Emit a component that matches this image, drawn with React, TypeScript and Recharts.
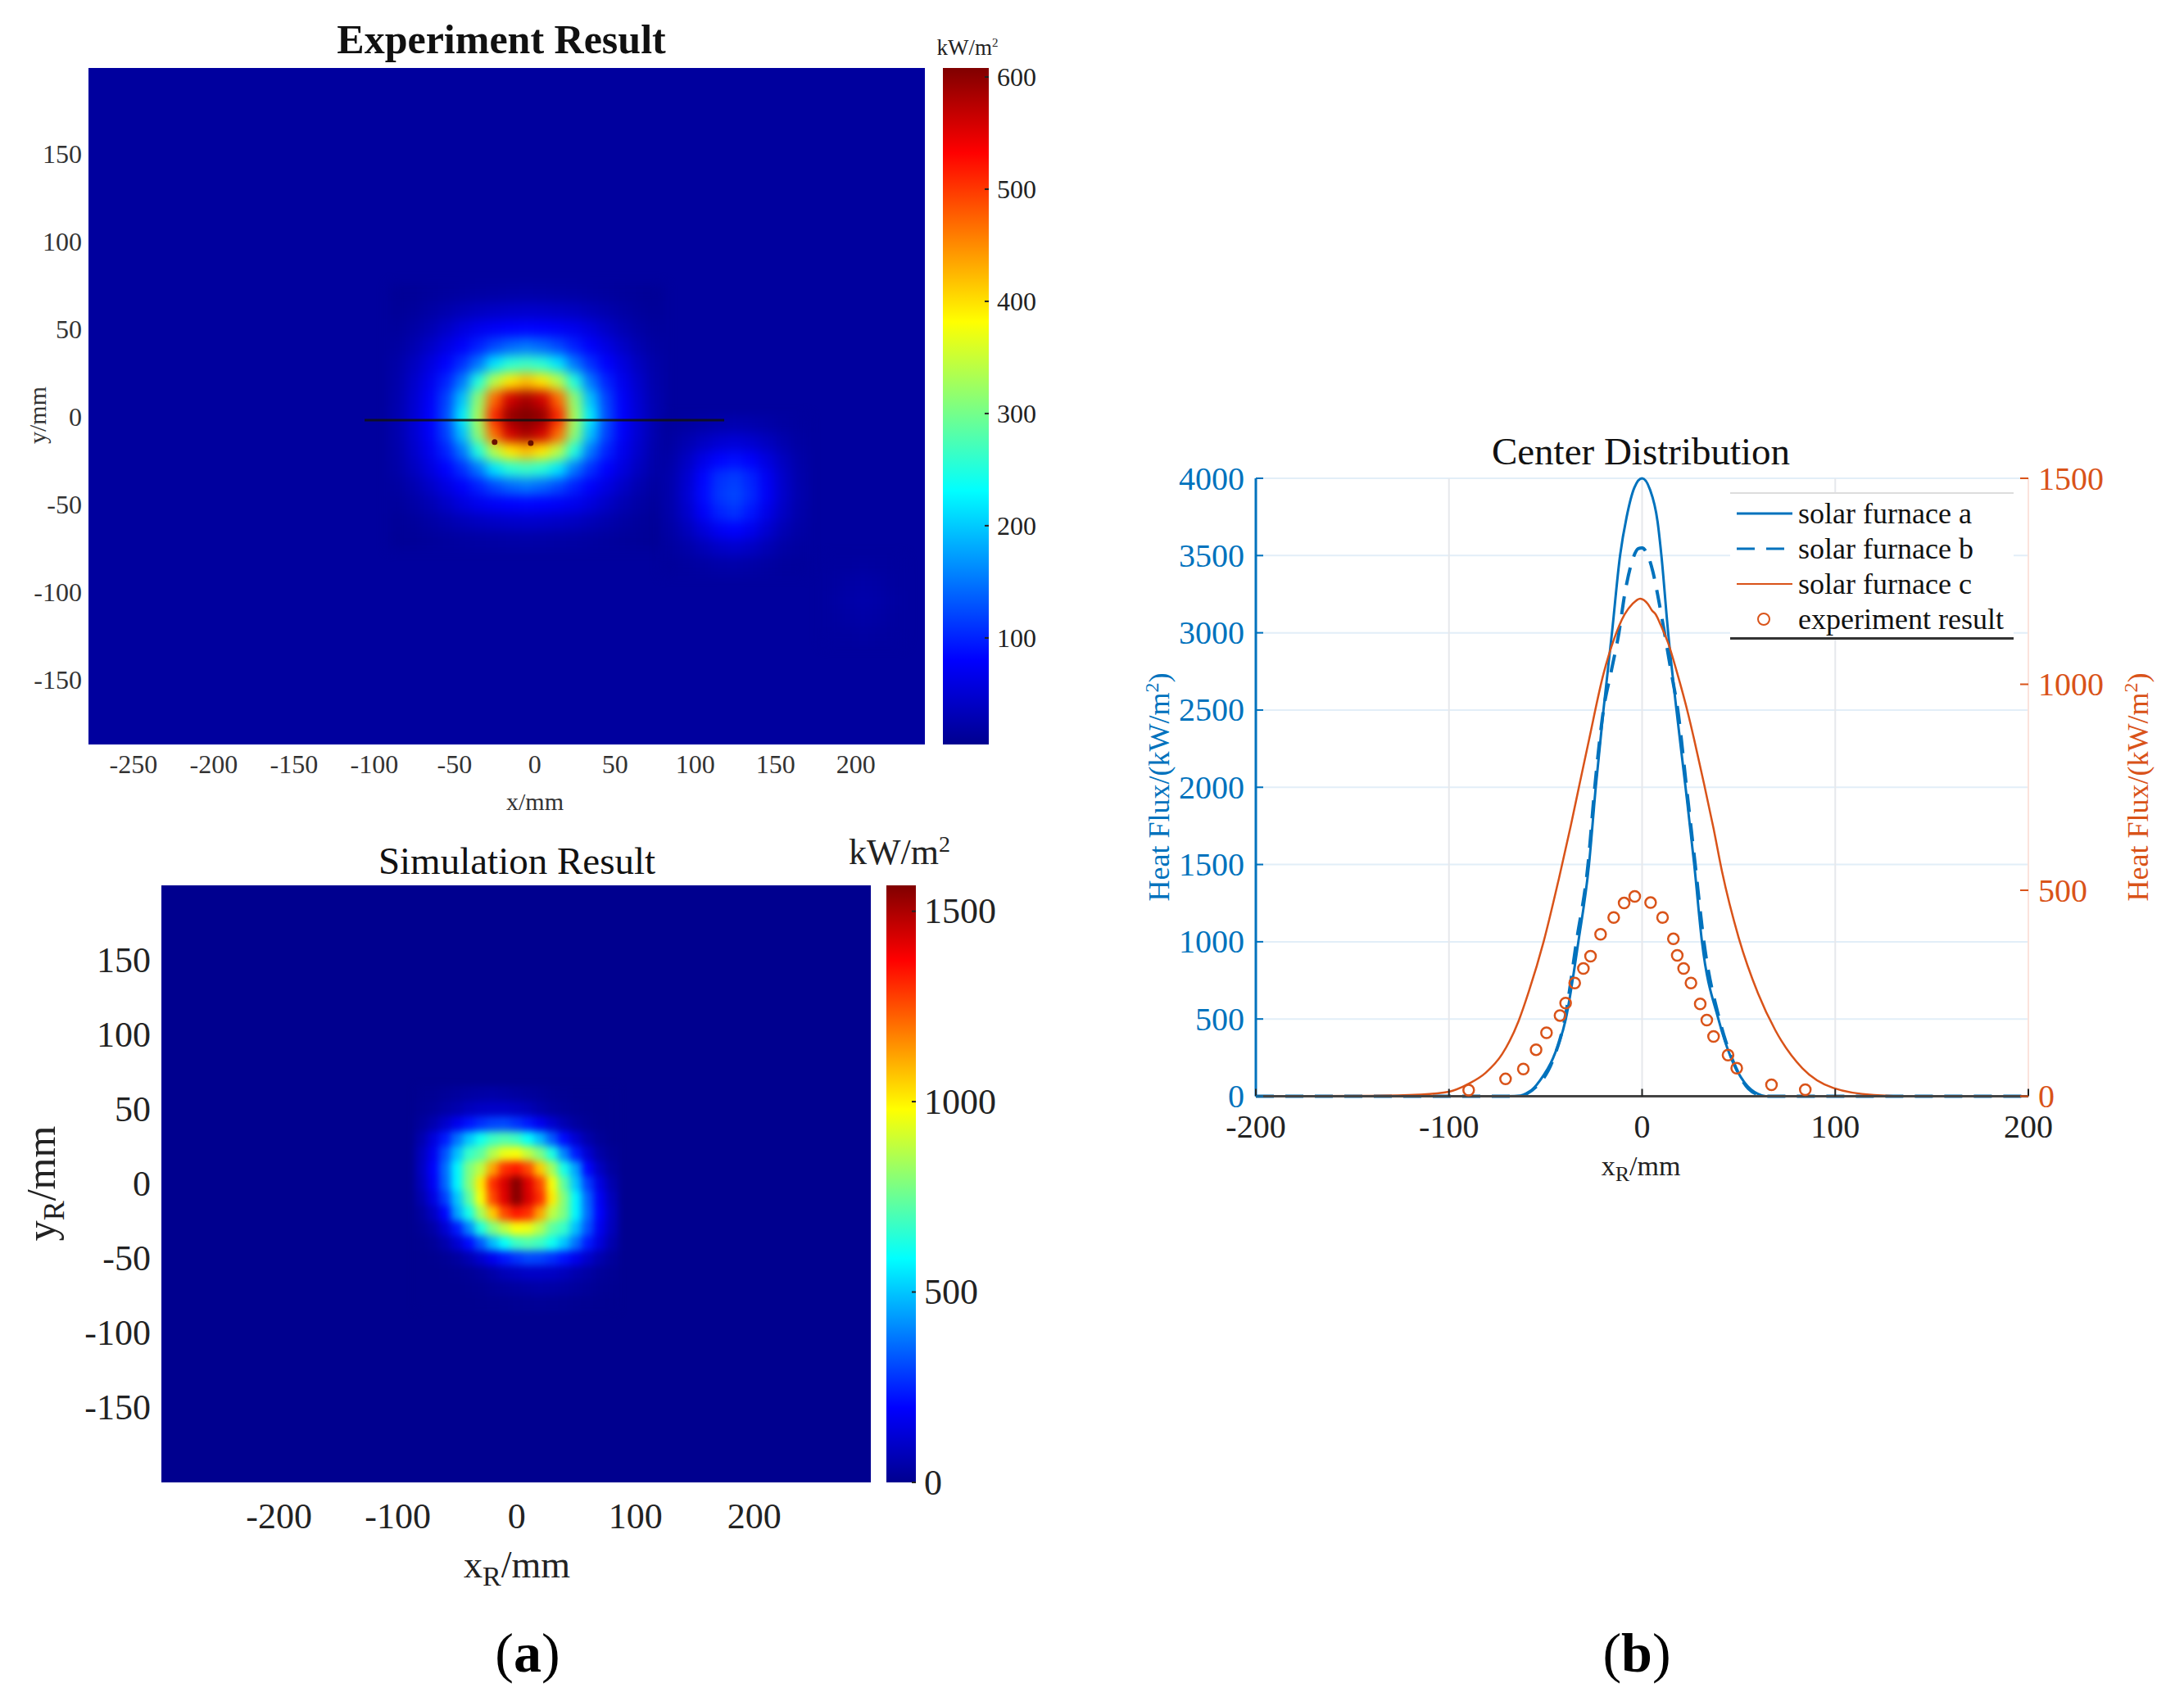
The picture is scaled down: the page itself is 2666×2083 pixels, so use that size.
import React from 'react';
import {
  ComposedChart, ScatterChart, Scatter, Line, XAxis, YAxis, CartesianGrid,
  ReferenceArea, Legend,
} from 'recharts';

const SERIF = '"Liberation Serif", serif';
const BLUE = '#0072bd';
const ORANGE = '#d95319';

// experiment heat map, kW/m2, 10 mm cells
const expColsX = [-85, -75, -65, -55, -45, -35, -25, -15, -5, 5, 15, 25, 35, 45, 55, 65, 75];
const expRowsY = [70, 60, 50, 40, 30, 20, 10, 0, -10, -20, -30, -40, -50, -60, -70];
const expRows = [
  [10, 11, 13, 15, 17, 19, 20, 21, 22, 21, 20, 19, 17, 15, 13, 11, 10],
  [11, 14, 19, 25, 32, 38, 42, 45, 46, 45, 42, 38, 32, 25, 19, 14, 11],
  [14, 20, 29, 42, 57, 68, 75, 80, 82, 80, 75, 68, 57, 42, 29, 20, 14],
  [17, 27, 43, 60, 78, 98, 122, 140, 150, 140, 122, 98, 78, 60, 43, 27, 17],
  [22, 37, 58, 80, 108, 150, 215, 255, 265, 255, 215, 150, 108, 80, 58, 37, 22],
  [24, 45, 68, 100, 150, 250, 340, 395, 420, 395, 340, 250, 150, 100, 68, 45, 24],
  [26, 49, 76, 118, 195, 315, 470, 560, 585, 560, 470, 315, 195, 118, 76, 49, 26],
  [27, 50, 79, 125, 220, 330, 510, 595, 610, 595, 510, 330, 220, 125, 79, 50, 27],
  [26, 49, 76, 118, 195, 315, 470, 560, 585, 560, 470, 315, 195, 118, 76, 49, 26],
  [24, 45, 68, 100, 150, 250, 340, 395, 420, 395, 340, 250, 150, 100, 68, 45, 24],
  [22, 37, 58, 80, 108, 150, 215, 255, 265, 255, 215, 150, 108, 80, 58, 37, 22],
  [17, 27, 43, 60, 78, 98, 122, 140, 150, 140, 122, 98, 78, 60, 43, 27, 17],
  [14, 20, 29, 42, 57, 68, 75, 80, 82, 80, 75, 68, 57, 42, 29, 20, 14],
  [11, 14, 19, 25, 32, 38, 42, 45, 46, 45, 42, 38, 32, 25, 19, 14, 11],
  [10, 11, 13, 15, 17, 19, 20, 21, 22, 21, 20, 19, 17, 15, 13, 11, 10],
];

// the weak second spot, lower right of the experiment map
const spotColsX = [85, 95, 105, 115, 125, 135, 145, 155, 165];
const spotRowsY = [-5, -15, -25, -35, -45, -55, -65, -75, -85];
const spotRows = [
  [15, 18, 22, 26, 28, 26, 22, 18, 15],
  [18, 28, 40, 50, 54, 48, 38, 26, 18],
  [22, 40, 64, 82, 88, 78, 58, 38, 22],
  [25, 48, 82, 108, 116, 100, 72, 44, 24],
  [25, 50, 85, 112, 122, 104, 75, 45, 25],
  [24, 45, 76, 100, 110, 92, 64, 40, 23],
  [20, 34, 54, 72, 80, 68, 48, 30, 20],
  [16, 22, 32, 42, 46, 40, 30, 20, 16],
  [13, 15, 18, 21, 22, 20, 17, 14, 13],
];

// very faint patch further down on the right
const faintColsX = [185, 195, 205, 215, 225];
const faintRowsY = [-85, -95, -105, -115, -125];
const faintRows = [
  [15, 16, 17, 16, 15],
  [16, 19, 21, 19, 16],
  [17, 21, 24, 21, 17],
  [16, 19, 21, 19, 16],
  [15, 16, 17, 16, 15],
];

const darkSpots = [{ x: -25, y: -14.5 }, { x: -2.5, y: -15 }];
const scanLine = [{ x: -106, y: -2 }, { x: 118, y: -2 }];

// simulation heat map, kW/m2, 10 mm cells
const simColsX = [-80, -70, -60, -50, -40, -30, -20, -10, 0, 10, 20, 30, 40, 50, 60, 70, 80];
const simRowsY = [60, 50, 40, 30, 20, 10, 0, -10, -20, -30, -40, -50, -60, -70, -80];
const simRows = [
  [3, 7, 15, 24, 33, 39, 42, 37, 30, 23, 15, 7, 3, 0, 0, 0, 0],
  [8, 18, 36, 55, 78, 92, 98, 98, 86, 70, 43, 25, 12, 5, 1, 0, 0],
  [22, 56, 105, 165, 224, 266, 298, 305, 273, 231, 168, 112, 63, 28, 10, 2, 0],
  [55, 135, 235, 370, 500, 610, 680, 710, 680, 595, 480, 335, 210, 115, 50, 15, 2],
  [78, 170, 320, 490, 670, 730, 860, 950, 970, 880, 780, 630, 400, 235, 115, 42, 12],
  [85, 195, 360, 575, 780, 880, 1120, 1300, 1340, 1260, 1060, 840, 620, 445, 200, 90, 28],
  [75, 180, 350, 575, 790, 1010, 1300, 1430, 1560, 1420, 1260, 970, 730, 500, 290, 145, 55],
  [55, 145, 290, 500, 730, 970, 1260, 1420, 1560, 1430, 1300, 1010, 790, 575, 350, 180, 75],
  [28, 90, 200, 445, 620, 840, 1060, 1260, 1340, 1300, 1120, 880, 780, 575, 360, 195, 85],
  [12, 42, 115, 235, 400, 630, 780, 880, 970, 950, 860, 730, 670, 490, 320, 170, 78],
  [2, 15, 50, 115, 210, 335, 480, 595, 680, 710, 680, 610, 500, 370, 235, 135, 55],
  [0, 2, 10, 28, 63, 112, 168, 231, 273, 305, 298, 266, 224, 165, 105, 56, 22],
  [0, 0, 1, 5, 12, 25, 43, 70, 86, 98, 98, 92, 78, 55, 36, 18, 8],
  [0, 0, 0, 0, 3, 7, 15, 23, 30, 37, 42, 39, 33, 24, 15, 7, 3],
  [0, 0, 0, 0, 0, 2, 4, 6, 8, 10, 12, 10, 8, 6, 3, 1, 0],
];

// center distribution curves
const furnaceA = [
  { x: -200, y: 0 }, { x: -100, y: 0 }, { x: -70, y: 0 }, { x: -62, y: 5 }, { x: -58, y: 30 },
  { x: -53, y: 100 }, { x: -46, y: 250 }, { x: -39.5, y: 500 }, { x: -33, y: 1000 }, { x: -27.5, y: 1500 },
  { x: -24, y: 2000 }, { x: -20, y: 2500 }, { x: -15.6, y: 3000 }, { x: -11.4, y: 3500 }, { x: -8, y: 3750 },
  { x: -4, y: 3940 }, { x: 0, y: 4000 }, { x: 4, y: 3930 }, { x: 8, y: 3720 }, { x: 10, y: 3500 },
  { x: 13.5, y: 3000 }, { x: 17.8, y: 2500 }, { x: 22.5, y: 2000 }, { x: 27, y: 1500 }, { x: 31, y: 1000 },
  { x: 39.5, y: 500 }, { x: 46, y: 250 }, { x: 53, y: 90 }, { x: 60, y: 15 }, { x: 64, y: 0 },
  { x: 100, y: 0 }, { x: 200, y: 0 },
];
const furnaceB = [
  { x: -200, y: 0 }, { x: -64, y: 0 }, { x: -60, y: 15 }, { x: -55, y: 60 }, { x: -46, y: 240 },
  { x: -40, y: 500 }, { x: -34, y: 1000 }, { x: -28, y: 1500 }, { x: -24.5, y: 2000 }, { x: -20, y: 2500 },
  { x: -16, y: 2750 }, { x: -12, y: 3000 }, { x: -9, y: 3250 }, { x: -5, y: 3470 }, { x: -2, y: 3545 },
  { x: 0, y: 3550 }, { x: 3, y: 3500 }, { x: 5.5, y: 3400 }, { x: 8, y: 3250 }, { x: 11.6, y: 3000 },
  { x: 15, y: 2750 }, { x: 18.5, y: 2500 }, { x: 23, y: 2000 }, { x: 27.5, y: 1500 }, { x: 32, y: 1000 },
  { x: 40, y: 500 }, { x: 47, y: 230 }, { x: 55, y: 50 }, { x: 62, y: 5 }, { x: 66, y: 0 }, { x: 200, y: 0 },
];
const furnaceC = [
  { x: -200, y: 0 }, { x: -140, y: 1 }, { x: -115, y: 4 }, { x: -100, y: 11 }, { x: -89.5, y: 31 },
  { x: -81, y: 57 }, { x: -72.5, y: 102 }, { x: -64, y: 182 }, { x: -58.6, y: 255 }, { x: -51, y: 375 },
  { x: -43, y: 530 }, { x: -37, y: 655 }, { x: -32.5, y: 755 }, { x: -27.5, y: 865 }, { x: -20, y: 1025 },
  { x: -14.5, y: 1110 }, { x: -9, y: 1170 }, { x: -5, y: 1195 }, { x: -1, y: 1208 }, { x: 3, y: 1195 },
  { x: 5, y: 1180 }, { x: 7, y: 1170 }, { x: 10, y: 1140 }, { x: 13.5, y: 1100 }, { x: 18, y: 1030 },
  { x: 24, y: 925 }, { x: 27, y: 865 }, { x: 32, y: 760 }, { x: 37, y: 650 }, { x: 41.4, y: 545 },
  { x: 50, y: 385 }, { x: 60, y: 250 }, { x: 69, y: 160 }, { x: 83, y: 68 }, { x: 99, y: 20 },
  { x: 120, y: 3 }, { x: 140, y: 0 }, { x: 200, y: 0 },
];
const experimentPoints = [
  { x: -89.8, y: 15 }, { x: -70.7, y: 42 }, { x: -61.5, y: 66 }, { x: -54.9, y: 113 }, { x: -49.5, y: 154 },
  { x: -42.5, y: 196 }, { x: -39.6, y: 226 }, { x: -34.9, y: 275 }, { x: -30.4, y: 310 }, { x: -26.7, y: 340 },
  { x: -21.5, y: 393 }, { x: -14.7, y: 434 }, { x: -9.3, y: 469 }, { x: -3.8, y: 485 }, { x: 4.4, y: 470 },
  { x: 10.6, y: 434 }, { x: 16.2, y: 382 }, { x: 18.2, y: 342 }, { x: 21.5, y: 310 }, { x: 25.3, y: 275 },
  { x: 30.1, y: 224 }, { x: 33.5, y: 185 }, { x: 37, y: 145 }, { x: 44.5, y: 100 }, { x: 49, y: 68 },
  { x: 67, y: 28 }, { x: 84.5, y: 16 },
];

const expXTicks = [-250, -200, -150, -100, -50, 0, 50, 100, 150, 200];
const expYTicks = [-150, -100, -50, 0, 50, 100, 150];
const expBarTicks = [100, 200, 300, 400, 500, 600];
const simXTicks = [-200, -100, 0, 100, 200];
const simYTicks = [-150, -100, -50, 0, 50, 100, 150];
const simBarTicks = [0, 500, 1000, 1500];
const centerXTicks = [-200, -100, 0, 100, 200];
const leftTicks = [0, 500, 1000, 1500, 2000, 2500, 3000, 3500, 4000];
const rightTicks = [0, 500, 1000, 1500];

const JET_STOPS: [number, string][] = [
  [0, '#00008f'], [0.125, '#0000ff'], [0.375, '#00ffff'], [0.625, '#ffff00'], [0.875, '#ff0000'], [1, '#800000'],
];

function jet(t: number) {
  const clamped = Math.max(0, Math.min(1, t));
  for (let i = 1; i < JET_STOPS.length; i++) {
    const [t1, c1] = JET_STOPS[i - 1];
    const [t2, c2] = JET_STOPS[i];
    if (clamped <= t2) {
      const f = (clamped - t1) / (t2 - t1);
      const mix = [1, 3, 5].map((p) => {
        const a = parseInt(c1.slice(p, p + 2), 16);
        const b = parseInt(c2.slice(p, p + 2), 16);
        return Math.round(a + (b - a) * f);
      });
      return `rgb(${mix.join(',')})`;
    }
  }
  return '#800000';
}

function toCells(colsX: number[], rowsY: number[], rows: number[][]) {
  return rowsY.flatMap((y, r) => colsX.map((x, c) => ({ x, y, v: rows[r][c] })));
}

const makeCell = (w: number, h: number, lo: number, hi: number) => (props: any) => (
  <rect
    x={props.cx - w / 2}
    y={props.cy - h / 2}
    width={w}
    height={h}
    fill={jet((props.payload.v - lo) / (hi - lo))}
  />
);

const noMark = () => <g />;

const makeTick = (opts: {
  dx?: number; dy?: number; anchor?: string; size: number; color: string; mark?: number; markDir?: 'x' | 'y';
}) => (props: any) => {
  const { x, y, payload } = props;
  const { dx = 0, dy = 0, anchor = 'middle', size, color, mark = 0, markDir = 'x' } = opts;
  return (
    <g>
      {mark !== 0 && (
        <line
          x1={x} y1={y}
          x2={markDir === 'x' ? x + mark : x}
          y2={markDir === 'y' ? y + mark : y}
          stroke={color} strokeWidth={2}
        />
      )}
      <text
        x={x + dx} y={y + dy} textAnchor={anchor} dominantBaseline="central"
        fontFamily={SERIF} fontSize={size} fill={color}
      >
        {payload.value}
      </text>
    </g>
  );
};

function Txt({ x, y, size, color = '#111', bold, rotate, children }: any) {
  return (
    <div
      style={{
        position: 'absolute', left: x, top: y, whiteSpace: 'nowrap', fontFamily: SERIF, fontSize: size,
        color, fontWeight: bold ? 700 : 400, lineHeight: 1,
        transform: `translate(-50%, -50%)${rotate ? ` rotate(${rotate}deg)` : ''}`,
      }}
    >
      {children}
    </div>
  );
}

function JetBar({ left, top, barW, barH, domain, ticks, id, size }: any) {
  const anchors = ticks.map((t: number) => ({ x: 0.5, y: t }));
  return (
    <div style={{ position: 'absolute', left, top: top - 30 }}>
      <ScatterChart width={barW + 110} height={barH + 60} margin={{ top: 30, right: 0, bottom: 30, left: 0 }}>
        <defs>
          <linearGradient id={id} x1="0" y1="1" x2="0" y2="0">
            {JET_STOPS.map(([t, c]) => <stop key={t} offset={t} stopColor={c} />)}
          </linearGradient>
        </defs>
        <XAxis type="number" dataKey="x" domain={[0, 1]} hide />
        <YAxis
          type="number" dataKey="y" domain={domain} ticks={ticks} interval={0} allowDataOverflow
          orientation="right" width={110} axisLine={false} tickLine={false} tickSize={0} tickMargin={0}
          tick={makeTick({ dx: 10, anchor: 'start', size, color: '#222', mark: -5 })}
        />
        <ReferenceArea x1={0} x2={1} y1={domain[0]} y2={domain[1]} fill={`url(#${id})`} fillOpacity={1} stroke="none" />
        <Scatter data={anchors} isAnimationActive={false} shape={noMark} />
      </ScatterChart>
    </div>
  );
}

function FurnaceLegend({ payload }: any) {
  return (
    <div
      style={{
        width: 346, height: 180, background: '#fff', borderTop: '2px solid #ddd', borderBottom: '3px solid #333',
        boxSizing: 'border-box', fontFamily: SERIF, fontSize: 36, color: '#111', paddingTop: 2,
      }}
    >
      {(payload || []).map((entry: any, i: number) => (
        <div key={entry.value} style={{ display: 'flex', alignItems: 'center', height: 43 }}>
          <svg width={83} height={20} style={{ flex: 'none' }}>
            {i === 0 && <line x1={8} x2={76} y1={10} y2={10} stroke={BLUE} strokeWidth={3} />}
            {i === 1 && <line x1={8} x2={76} y1={10} y2={10} stroke={BLUE} strokeWidth={3} strokeDasharray="22 14" />}
            {i === 2 && <line x1={8} x2={76} y1={10} y2={10} stroke={ORANGE} strokeWidth={2} />}
            {i === 3 && <circle cx={41} cy={10} r={7} fill="none" stroke={ORANGE} strokeWidth={2} />}
          </svg>
          <span>{entry.value}</span>
        </div>
      ))}
    </div>
  );
}

function ExperimentMap() {
  const cell = makeCell(21, 22.5, 5, 608);
  return (
    <div style={{ position: 'absolute', left: 0, top: 83 }}>
      <ScatterChart width={1129} height={900} margin={{ top: 0, right: 0, bottom: 0, left: 0 }}>
        <CartesianGrid horizontal={false} vertical={false} fill={jet(10 / 603)} fillOpacity={1} />
        <XAxis
          type="number" dataKey="x" domain={[-278, 243]} ticks={expXTicks} interval={0} allowDataOverflow
          height={74} axisLine={false} tickLine={false} tickSize={0} tickMargin={0}
          tick={makeTick({ dy: 24, size: 32, color: '#333' })}
        />
        <YAxis
          type="number" dataKey="y" domain={[-187, 199]} ticks={expYTicks} interval={0} allowDataOverflow
          width={108} axisLine={false} tickLine={false} tickSize={0} tickMargin={0}
          tick={makeTick({ dx: -8, anchor: 'end', size: 32, color: '#333' })}
        />
        <Scatter className="heat-exp" data={toCells(expColsX, expRowsY, expRows)} isAnimationActive={false} shape={cell} />
        <Scatter className="heat-exp" data={toCells(spotColsX, spotRowsY, spotRows)} isAnimationActive={false} shape={cell} />
        <Scatter className="heat-exp" data={toCells(faintColsX, faintRowsY, faintRows)} isAnimationActive={false} shape={cell} />
        <Scatter
          data={darkSpots} isAnimationActive={false}
          shape={(p: any) => <circle cx={p.cx} cy={p.cy} r={3.5} fill="#6a1000" />}
        />
        <Scatter
          data={scanLine} isAnimationActive={false} shape={noMark}
          line={{ stroke: '#111', strokeOpacity: 0.85, strokeWidth: 3 }}
        />
      </ScatterChart>
    </div>
  );
}

function SimulationMap() {
  return (
    <div style={{ position: 'absolute', left: 0, top: 1081 }}>
      <ScatterChart width={1063} height={815} margin={{ top: 0, right: 0, bottom: 0, left: 0 }}>
        <CartesianGrid horizontal={false} vertical={false} fill={jet(0)} fillOpacity={1} />
        <XAxis
          type="number" dataKey="x" domain={[-299, 298]} ticks={simXTicks} interval={0} allowDataOverflow
          height={86} axisLine={false} tickLine={false} tickSize={0} tickMargin={0}
          tick={makeTick({ dy: 41, size: 44, color: '#222' })}
        />
        <YAxis
          type="number" dataKey="y" domain={[-200, 200]} ticks={simYTicks} interval={0} allowDataOverflow
          width={197} axisLine={false} tickLine={false} tickSize={0} tickMargin={0}
          tick={makeTick({ dx: -13, anchor: 'end', size: 44, color: '#222' })}
        />
        <Scatter
          className="heat-sim" data={toCells(simColsX, simRowsY, simRows)} isAnimationActive={false}
          shape={makeCell(15.5, 19.2, 0, 1568)}
        />
      </ScatterChart>
    </div>
  );
}

function CenterDistribution() {
  return (
    <div style={{ position: 'absolute', left: 1393, top: 554 }}>
      <ComposedChart width={1223} height={860} margin={{ top: 30, right: 0, bottom: 0, left: 0 }}>
        <CartesianGrid yAxisId="left" vertical={false} stroke="#e2eef8" strokeWidth={2} />
        <CartesianGrid yAxisId="left" horizontal={false} stroke="#e6e8ec" strokeWidth={2} />
        <XAxis
          type="number" dataKey="x" domain={[-200, 200]} ticks={centerXTicks} interval={0} allowDataOverflow
          height={75.5} axisLine={{ stroke: '#444', strokeWidth: 3 }} tickLine={false} tickSize={0} tickMargin={0}
          tick={makeTick({ dy: 37, size: 40, color: '#222', mark: -9, markDir: 'y' })}
        />
        <YAxis
          yAxisId="left" type="number" domain={[0, 4000]} ticks={leftTicks} interval={0}
          width={140} axisLine={{ stroke: BLUE, strokeWidth: 3 }} tickLine={false} tickSize={0} tickMargin={0}
          tick={makeTick({ dx: -14, anchor: 'end', size: 40, color: BLUE, mark: 9 })}
        />
        <YAxis
          yAxisId="right" type="number" orientation="right" domain={[0, 1500]} ticks={rightTicks} interval={0}
          width={140} axisLine={{ stroke: '#fbe3dc', strokeWidth: 2 }} tickLine={false} tickSize={0} tickMargin={0}
          tick={makeTick({ dx: 12, anchor: 'start', size: 40, color: ORANGE, mark: -10 })}
        />
        <Line
          yAxisId="left" name="solar furnace a" data={furnaceA} dataKey="y" type="monotone"
          stroke={BLUE} strokeWidth={3} dot={false} isAnimationActive={false}
        />
        <Line
          yAxisId="left" name="solar furnace b" data={furnaceB} dataKey="y" type="monotone"
          stroke={BLUE} strokeWidth={4} strokeDasharray="22 14" dot={false} isAnimationActive={false}
        />
        <Line
          yAxisId="right" name="solar furnace c" data={furnaceC} dataKey="y" type="monotone"
          stroke={ORANGE} strokeWidth={2.5} dot={false} isAnimationActive={false}
        />
        <Line
          yAxisId="right" name="experiment result" data={experimentPoints} dataKey="y" type="linear"
          stroke="none" isAnimationActive={false}
          dot={{ r: 6.5, fill: 'none', stroke: ORANGE, strokeWidth: 2.5 }}
        />
        <Legend
          content={<FurnaceLegend />}
          layout="horizontal" verticalAlign="middle" itemSorter={null}
          wrapperStyle={{ position: 'absolute', left: 719, top: 47, width: 346, height: 180 }}
        />
      </ComposedChart>
    </div>
  );
}

export default function App() {
  return (
    <div style={{ position: 'absolute', left: 0, top: 0, width: 2666, height: 2083, background: '#fff', overflow: 'hidden' }}>
      <style>{`
        .heat-exp { filter: blur(7px); }
        .heat-sim { filter: blur(5px); }
      `}</style>

      <ExperimentMap />
      <JetBar left={1151} top={83} barW={56} barH={826} domain={[5, 608]} ticks={expBarTicks} id="jetExp" size={32} />
      <Txt x={612} y={48} size={50} bold color="#111">Experiment Result</Txt>
      <Txt x={1181} y={58} size={27} color="#222">kW/m<sup style={{ fontSize: 15 }}>2</sup></Txt>
      <Txt x={653} y={979} size={30} color="#333">x/mm</Txt>
      <Txt x={46} y={507} size={30} rotate={-90} color="#333">y/mm</Txt>

      <SimulationMap />
      <JetBar left={1082} top={1081} barW={36} barH={729} domain={[0, 1568]} ticks={simBarTicks} id="jetSim" size={44} />
      <Txt x={631} y={1051} size={47} color="#111">Simulation Result</Txt>
      <Txt x={1098} y={1040} size={44} color="#222">kW/m<sup style={{ fontSize: 28 }}>2</sup></Txt>
      <Txt x={631} y={1915} size={46} color="#222">x<sub style={{ fontSize: 34 }}>R</sub>/mm</Txt>
      <Txt x={54} y={1445} size={50} rotate={-90} color="#222">y<sub style={{ fontSize: 36 }}>R</sub>/mm</Txt>

      <CenterDistribution />
      <Txt x={2003} y={551} size={47} color="#111">Center Distribution</Txt>
      <Txt x={2003} y={1427} size={34} color="#222">x<sub style={{ fontSize: 26 }}>R</sub>/mm</Txt>
      <Txt x={1413} y={961} size={36} rotate={-90} color={BLUE}>Heat Flux/(kW/m<sup style={{ fontSize: 24 }}>2</sup>)</Txt>
      <Txt x={2608} y={961} size={36} rotate={-90} color={ORANGE}>Heat Flux/(kW/m<sup style={{ fontSize: 24 }}>2</sup>)</Txt>

      <Txt x={644} y={2018} size={68} color="#000">(<b>a</b>)</Txt>
      <Txt x={1998} y={2018} size={68} color="#000">(<b>b</b>)</Txt>
    </div>
  );
}
